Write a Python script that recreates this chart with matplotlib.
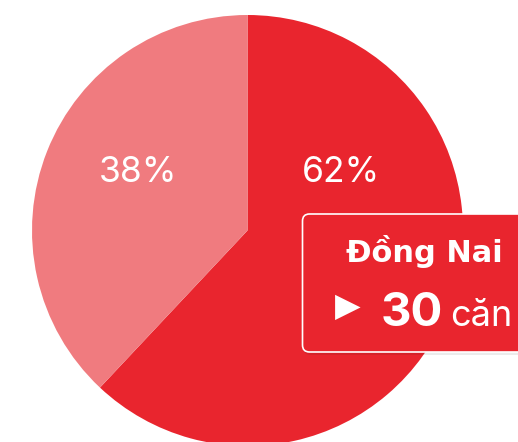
import matplotlib
matplotlib.use("Agg")
import matplotlib.pyplot as plt
from matplotlib.patches import FancyBboxPatch

# Share of units by province
regions = ["Đồng Nai", "Khác"]
shares = [62, 38]
pct_labels = ["62%", "38%"]
# Tooltip for the highlighted province
tip_region = "Đồng Nai"
tip_units = 30
tip_unit_word = "căn"

COLORS = ["#E9252E", "#F07B7F"]
W, H = 518, 442

plt.rcParams['font.family'] = ['Inter', 'DejaVu Sans']

fig = plt.figure(figsize=(W / 100, H / 100), dpi=100)
ax = fig.add_axes([0, 0, 1, 1])

cx, cy, r = 247.5, H - 230.5, 215.5
wedges, _ = ax.pie(shares, colors=COLORS, startangle=90, counterclock=False,
                   center=(cx, cy), radius=r, frame=True,
                   wedgeprops=dict(linewidth=0))
ax.set_xlim(0, W)
ax.set_ylim(0, H)
ax.set_aspect('equal')
ax.axis('off')

# percentage labels
ax.text(341, H - 172, pct_labels[0], color='white', fontsize=25.5,
        ha='center', va='center')
ax.text(138, H - 172, pct_labels[1], color='white', fontsize=25.5,
        ha='center', va='center')

# tooltip box with soft shadow
bx, by, bw, bh = 302.5, H - 352, 260, 138
shadow = FancyBboxPatch((bx + 1, by - 3), bw, bh, boxstyle="round,pad=0,rounding_size=7",
                        facecolor='#000000', edgecolor='none', alpha=0.08, zorder=4)
ax.add_patch(shadow)
box = FancyBboxPatch((bx, by), bw, bh, boxstyle="round,pad=0,rounding_size=7",
                     facecolor=COLORS[0], edgecolor='white', linewidth=1.2, zorder=5)
ax.add_patch(box)

ax.text(424.5, H - 262, tip_region, color='white', fontsize=22, fontweight='bold',
        family=['DejaVu Sans'], ha='center', va='baseline', zorder=6)
ax.text(335, H - 306, "▶", color='white', fontsize=24, family=['DejaVu Sans'],
        ha='left', va='center', zorder=6)
ax.text(381, H - 326, str(tip_units), color='white', fontsize=34, fontweight='bold',
        ha='left', va='baseline', zorder=6)
ax.text(450, H - 326, tip_unit_word, color='white', fontsize=26,
        ha='left', va='baseline', zorder=6)

fig.savefig("out.png", dpi=100, facecolor='white')
